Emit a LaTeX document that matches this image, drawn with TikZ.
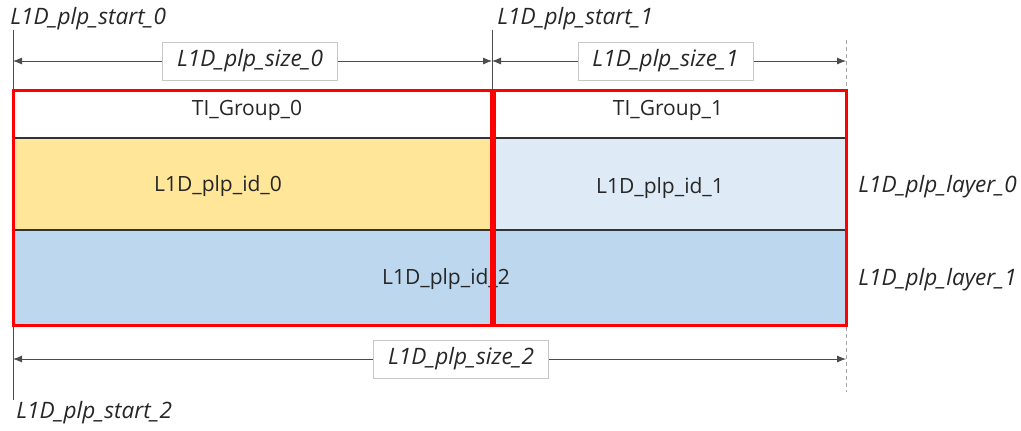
\documentclass[tikz,border=0pt]{standalone}
\usepackage{fontspec}
\setmainfont{Open Sans}
\usetikzlibrary{arrows.meta, positioning}
\definecolor{plpyellow}{RGB}{255,230,153}
\definecolor{plplight}{RGB}{222,235,247}
\definecolor{plpblue}{RGB}{189,215,238}
\definecolor{plptext}{RGB}{38,38,38}

\begin{document}
\begin{tikzpicture}[x=0.5pt, y=-0.5pt, font=\fontsize{10.5}{12}\selectfont, text=plptext,
  dim/.style={{Latex[length=4.5pt,width=3.5pt]}-{Latex[length=4.5pt,width=3.5pt]}, line width=0.4pt, draw=black!70},
  sizebox/.style={draw=black!22, fill=white, minimum width=87.5pt, minimum height=19pt, inner sep=0pt, font=\fontsize{11.3}{13}\selectfont\itshape},
  tag/.style={font=\fontsize{11.3}{13}\selectfont\itshape, inner sep=0pt},
  guide/.style={draw=black!70, line width=0.4pt},
  rowline/.style={draw=black!80, line width=0.6pt},
  group/.style={draw=red, line width=1.5pt}]
  \useasboundingbox (0,0) rectangle (1021,430);

  % Cell fills
  \fill[white] (13,90) rectangle (846,138);
  \fill[plpyellow] (13,138) rectangle (492,230);
  \fill[plplight] (492,138) rectangle (846,230);
  \fill[plpblue] (13,230) rectangle (846,325);
  \draw[rowline] (13,138) -- (846,138);
  \draw[rowline] (13,230) -- (846,230);

  % Start / end guides
  \coordinate (start0) at (13,30);
  \coordinate (start1) at (492,30);
  \coordinate (start1b) at (492,90);
  \coordinate (start2) at (13,400);
  \coordinate (end1) at (846,40);
  \coordinate (end2) at (846,392);
  \draw[guide] (start0) -- (start2);
  \draw[guide] (start1) -- (start1b);
  \draw[draw=black!35, line width=0.4pt, dash pattern=on 2pt off 1.5pt] (end1) -- (end2);

  \node[tag, anchor=base west] (lstart0) at (10,24) {L1D\_plp\_start\_0};
  \node[tag, anchor=base west] (lstart1) at (497,24) {L1D\_plp\_start\_1};
  \node[tag, anchor=base west] (lstart2) at (16,418) {L1D\_plp\_start\_2};

  % Size arrows
  \coordinate (a0) at (13,61);
  \coordinate (a1) at (492,61);
  \coordinate (a2) at (846,61);
  \coordinate (b0) at (13,359);
  \coordinate (b2) at (846,359);
  \draw[dim] (a0) -- node[sizebox, pos=0.495] (size0) {L1D\_plp\_size\_0} (a1);
  \draw[dim] (a1) -- node[sizebox, pos=0.49] (size1) {L1D\_plp\_size\_1} (a2);
  \draw[dim] (b0) -- node[sizebox, pos=0.538] (size2) {L1D\_plp\_size\_2} (b2);

  % Cell texts
  \node (grp0) at (247,110) {TI\_Group\_0};
  \node (grp1) at (668,110) {TI\_Group\_1};
  \node (id0) at (218,186) {L1D\_plp\_id\_0};
  \node (id1) at (660,188) {L1D\_plp\_id\_1};
  \node (id2) at (446,279) {L1D\_plp\_id\_2};

  % Layer labels
  \node[tag, anchor=west] (layer0) at (858,187) {L1D\_plp\_layer\_0};
  \node[tag, anchor=west] (layer1) at (858,280) {L1D\_plp\_layer\_1};

  % TI groups
  \draw[group] (13,90) rectangle (491,325);
  \draw[group] (494,90) rectangle (846,325);
\end{tikzpicture}
\end{document}
